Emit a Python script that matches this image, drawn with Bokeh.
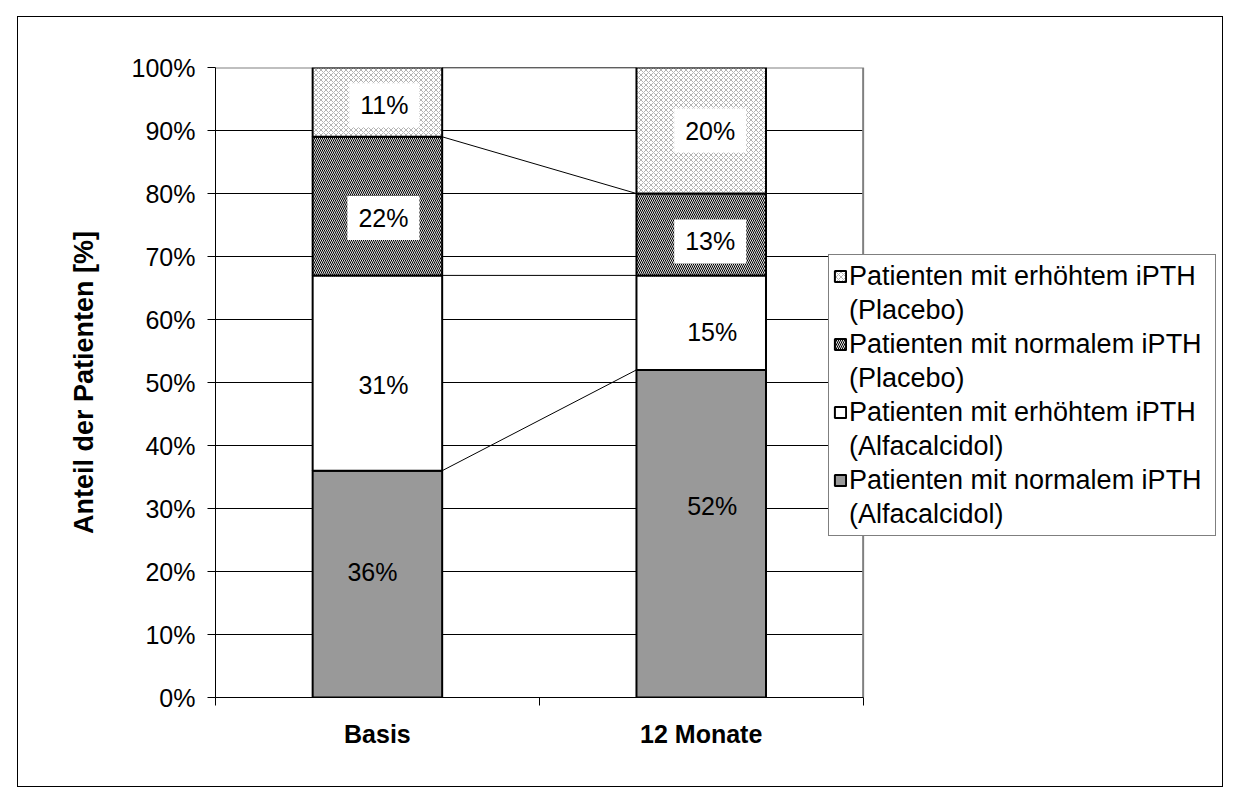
from bokeh.plotting import figure
from bokeh.models import (FixedTicker, Label, Legend, LegendItem, ColumnDataSource)
from bokeh.embed import file_html
from bokeh.resources import INLINE

# Anteil der Patienten je Zeitpunkt (Prozent)
categories = ["Basis", "12 Monate"]
series_names = [
    "Patienten mit normalem iPTH (Alfacalcidol)",
    "Patienten mit erhöhtem iPTH (Alfacalcidol)",
    "Patienten mit normalem iPTH (Placebo)",
    "Patienten mit erhöhtem iPTH (Placebo)",
]
alfa_normal = [36, 52]
alfa_erhoeht = [31, 15]
placebo_normal = [22, 13]
placebo_erhoeht = [11, 20]

y_ticks = [0, 10, 20, 30, 40, 50, 60, 70, 80, 90, 100]
y_tick_labels = ["0%", "10%", "20%", "30%", "40%", "50%", "60%", "70%", "80%", "90%", "100%"]

FONT = "Liberation Sans"
BAR_W = 0.4
N = len(categories)

# plot area is 647 px wide for the categories; the frame is widened to the
# right so that the legend can sit beside (and partly over) the plot area
AREA_W = 647
FRAME_W = 1006
x_end = N * FRAME_W / AREA_W

series_values = [alfa_normal, alfa_erhoeht, placebo_normal, placebo_erhoeht]
series_styles = [
    dict(fill_color="#999999"),
    dict(fill_color="#ffffff"),
    dict(fill_color="#e0e0e0", hatch_pattern="left_diagonal_line",
         hatch_color="#000000", hatch_scale=4, hatch_weight=1),
    dict(fill_color="#ffffff", hatch_pattern="diagonal_cross",
         hatch_color="#b4b4b4", hatch_scale=5, hatch_weight=1),
]
label_boxed = [False, False, True, True]
# hand-placed nudges of the value labels (screen px: right, up), per series / category
label_nudge = [
    [(-5, 12), (11, 28)],
    [(6, -12), (11, -9)],
    [(6, -12), (9, -7)],
    [(7, -3), (9, 0)],
]

x_pos = [i + 0.5 for i in range(N)]

p = figure(width=1206, height=771, output_backend="svg", toolbar_location=None,
           x_range=(0, x_end), y_range=(0, 100),
           min_border_left=197, min_border_right=2,
           min_border_top=50, min_border_bottom=91,
           margin=(16, 0, 0, 17))
p.styles = {"border": "1px solid #000000"}
p.background_fill_color = "#ffffff"
p.border_fill_color = "#ffffff"
p.outline_line_color = None
p.grid.visible = False

# horizontal gridlines across the category area only
grid_y = y_ticks[1:-1]
p.segment(x0=[0] * len(grid_y), x1=[N] * len(grid_y), y0=grid_y, y1=grid_y,
          line_color="#000000", line_width=1, level="underlay")

# grey border of the plot area (top and right)
p.line(x=[0, N, N], y=[100, 100, 0], line_color="#808080", line_width=2,
       level="underlay")

# y axis
p.yaxis.ticker = FixedTicker(ticks=y_ticks)
p.yaxis.major_label_overrides = dict(zip(y_ticks, y_tick_labels))
p.yaxis.axis_label = "Anteil der Patienten [%]"
p.yaxis.axis_label_text_font = FONT
p.yaxis.axis_label_text_font_style = "bold"
p.yaxis.axis_label_text_font_size = "27px"
p.yaxis.axis_label_text_color = "#000000"
p.yaxis.axis_label_standoff = 30
p.yaxis.major_label_text_font = FONT
p.yaxis.major_label_text_font_size = "25px"
p.yaxis.major_label_text_color = "#000000"
p.yaxis.major_tick_out = 8
p.yaxis.major_tick_in = 0
p.yaxis.minor_tick_line_color = None
p.yaxis.axis_line_color = "#000000"
p.yaxis.major_tick_line_color = "#000000"
p.yaxis.major_label_standoff = 12

# x axis: labels centred on categories, tick marks on category boundaries
p.xaxis.bounds = (0, N)
p.xaxis.ticker = FixedTicker(ticks=x_pos, minor_ticks=list(range(N + 1)))
p.xaxis.major_label_overrides = dict(zip(x_pos, categories))
p.xaxis.major_label_text_font = FONT
p.xaxis.major_label_text_font_style = "bold"
p.xaxis.major_label_text_font_size = "25px"
p.xaxis.major_label_text_color = "#000000"
p.xaxis.major_tick_line_color = None
p.xaxis.major_tick_out = 0
p.xaxis.major_tick_in = 0
p.xaxis.minor_tick_out = 8
p.xaxis.minor_tick_in = 0
p.xaxis.minor_tick_line_color = "#000000"
p.xaxis.axis_line_color = "#000000"
p.xaxis.major_label_standoff = 14

# stacked bars
bottoms = [0.0] * N
renderers = []
tops_per_series = []
for vals, style, boxed, nudges in zip(series_values, series_styles, label_boxed, label_nudge):
    tops = [b + v for b, v in zip(bottoms, vals)]
    src = ColumnDataSource(dict(x=x_pos, bottom=bottoms, top=tops))
    r = p.vbar(x="x", bottom="bottom", top="top", width=BAR_W, source=src,
               line_color="#000000", line_width=2, **style)
    renderers.append(r)
    for xc, b, t, v, (dx, dy) in zip(x_pos, bottoms, tops, vals, nudges):
        lab = Label(x=xc, y=(b + t) / 2, text=f"{v}%", text_align="center",
                    text_baseline="middle", text_font=FONT, text_font_size="25px",
                    text_color="#000000", x_offset=dx, y_offset=dy)
        if boxed:
            lab.background_fill_color = "#ffffff"
            lab.padding = dict(left=11, right=11, top=8, bottom=8)
        p.add_layout(lab)
    tops_per_series.append(tops)
    bottoms = tops

# series lines between the bars
for tops in tops_per_series:
    for i in range(N - 1):
        p.segment(x0=x_pos[i] + BAR_W / 2, y0=tops[i],
                  x1=x_pos[i + 1] - BAR_W / 2, y1=tops[i + 1],
                  line_color="#000000", line_width=1)

# legend: two text lines per entry, swatch beside the first line
blank = p.vbar(x=[], top=[], width=0.1, fill_alpha=0, line_alpha=0)
items = []
for name, r in reversed(list(zip(series_names, renderers))):
    first, second = name.rsplit(" (", 1)
    items.append(LegendItem(label=first, renderers=[r]))
    items.append(LegendItem(label="(" + second, renderers=[blank]))

legend = Legend(items=items, location=(613, 161), orientation="vertical",
                label_text_font=FONT, label_text_font_size="27px",
                label_text_color="#000000",
                glyph_width=14, glyph_height=14, label_height=34, label_width=362,
                label_standoff=2, spacing=0, padding=4, margin=0,
                border_line_color="#000000", border_line_width=1,
                background_fill_color="#ffffff", background_fill_alpha=1)
p.add_layout(legend, "center")

open("out.html", "w").write(file_html(p, INLINE))
